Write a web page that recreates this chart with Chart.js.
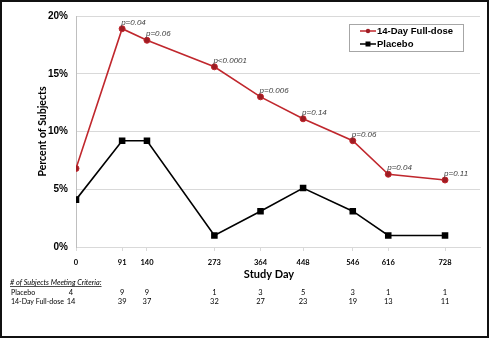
<!DOCTYPE html>
<html>
<head>
<meta charset="utf-8">
<script src="https://cdn.jsdelivr.net/npm/chart.js@4/dist/chart.umd.min.js"></script>
<style>
html,body{margin:0;padding:0;background:#fff;}
canvas{display:block;}
</style>
</head>
<body>
<canvas id="c" width="489" height="338"></canvas>
<script>
const days = [0, 91, 140, 273, 364, 448, 546, 616, 728];
const fullDose = [6.8, 18.9, 17.9, 15.6, 13.0, 11.1, 9.2, 6.3, 5.8];
const placebo = [4.1, 9.2, 9.2, 1.0, 3.1, 5.1, 3.1, 1.0, 1.0];
const pValues = ['', 'p=0.04', 'p=0.06', 'p<0.0001', 'p=0.006', 'p=0.14', 'p=0.06', 'p=0.04', 'p=0.11'];
const placeboCounts = [4, 9, 9, 1, 3, 5, 3, 1, 1];
const fullDoseCounts = [14, 39, 37, 32, 27, 23, 19, 13, 11];
const yTicks = [0, 5, 10, 15, 20];
const seriesNames = ['14-Day Full-dose', 'Placebo'];

const RED = '#c0272d', RED_DARK = '#9e1c23', BLACK = '#000000';

const extras = {
  id: 'extras',
  beforeDraw(chart) {
    const ctx = chart.ctx;
    ctx.save();
    ctx.fillStyle = '#fff';
    ctx.fillRect(0, 0, chart.width, chart.height);
    ctx.restore();
  },
  afterDraw(chart) {
    const ctx = chart.ctx;
    const xs = chart.scales.x, ys = chart.scales.y;
    const area = chart.chartArea;
    ctx.save();
    // y title
    ctx.fillStyle = '#000';
    ctx.font = 'bold 10.5px Lato';
    ctx.textAlign = 'center';
    ctx.textBaseline = 'middle';
    ctx.translate(43, (area.top + area.bottom) / 2);
    ctx.rotate(-Math.PI / 2);
    ctx.fillText('Percent of Subjects', 0, 0);
    ctx.restore();

    ctx.save();
    // x title
    ctx.fillStyle = '#000';
    ctx.font = 'bold 11px Lato';
    ctx.textAlign = 'center';
    ctx.textBaseline = 'middle';
    ctx.fillText('Study Day', 269, 274);

    // p-values
    ctx.font = 'italic 8px "Liberation Sans"';
    ctx.fillStyle = '#404040';
    ctx.textAlign = 'left';
    pValues.forEach((t, i) => {
      if (!t) return;
      const px = xs.getPixelForValue(days[i]);
      const py = ys.getPixelForValue(fullDose[i]);
      ctx.fillText(t, px - 1, py - 6);
    });

    // table
    ctx.fillStyle = '#000';
    ctx.font = 'italic 7.3px Lato';
    ctx.textAlign = 'left';
    const hdr = '# of Subjects Meeting Criteria:';
    ctx.fillText(hdr, 10, 282.5);
    const w = ctx.measureText(hdr).width;
    ctx.strokeStyle = '#000';
    ctx.lineWidth = 0.7;
    ctx.beginPath();
    ctx.moveTo(10, 286.5);
    ctx.lineTo(10 + w, 286.5);
    ctx.stroke();
    ctx.font = '7px Lato';
    ctx.fillText(seriesNames[1], 11, 292.5);
    ctx.fillText(seriesNames[0], 11, 302);
    ctx.font = '7.5px Lato';
    ctx.textAlign = 'center';
    days.forEach((d, i) => {
      const px = xs.getPixelForValue(d) - (i === 0 ? 5 : 0);
      ctx.fillText(String(placeboCounts[i]), px, 292.5);
      ctx.fillText(String(fullDoseCounts[i]), px, 302);
    });

    // legend
    ctx.strokeStyle = '#a6a6a6';
    ctx.lineWidth = 1;
    ctx.strokeRect(349.5, 24.5, 114, 27);
    const rows = [
      { name: seriesNames[0], color: RED, fill: RED_DARK, shape: 'circle', y: 31 },
      { name: seriesNames[1], color: BLACK, fill: BLACK, shape: 'square', y: 44 }
    ];
    ctx.font = 'bold 9.5px "Liberation Sans"';
    ctx.textAlign = 'left';
    ctx.textBaseline = 'middle';
    rows.forEach(r => {
      ctx.strokeStyle = r.color;
      ctx.lineWidth = 1.5;
      ctx.beginPath();
      ctx.moveTo(360, r.y);
      ctx.lineTo(376, r.y);
      ctx.stroke();
      ctx.fillStyle = r.fill;
      if (r.shape === 'circle') {
        ctx.beginPath();
        ctx.arc(368, r.y, 2.2, 0, Math.PI * 2);
        ctx.fill();
      } else {
        ctx.fillRect(365.5, r.y - 2.5, 5, 5);
      }
      ctx.fillStyle = '#000';
      ctx.fillText(r.name, 377, r.y + 0.5);
    });

    // outer frame
    ctx.strokeStyle = '#111';
    ctx.lineWidth = 2;
    ctx.strokeRect(1, 1, chart.width - 2, chart.height - 2);
    ctx.restore();
  }
};

new Chart(document.getElementById('c'), {
  type: 'line',
  data: {
    datasets: [
      {
        label: seriesNames[0],
        data: days.map((d, i) => ({ x: d, y: fullDose[i] })),
        borderColor: RED,
        backgroundColor: RED_DARK,
        pointBackgroundColor: RED_DARK,
        pointBorderColor: RED,
        pointBorderWidth: 1,
        pointRadius: 3,
        pointStyle: 'circle',
        borderWidth: 1.6,
        tension: 0
      },
      {
        label: seriesNames[1],
        data: days.map((d, i) => ({ x: d, y: placebo[i] })),
        borderColor: BLACK,
        backgroundColor: BLACK,
        pointBackgroundColor: BLACK,
        pointBorderColor: BLACK,
        pointRadius: 3.5,
        pointStyle: 'rect',
        borderWidth: 1.6,
        tension: 0
      }
    ]
  },
  options: {
    responsive: false,
    animation: false,
    devicePixelRatio: 1,
    layout: { padding: { top: 16, right: 9, left: 0, bottom: 0 } },
    plugins: { legend: { display: false }, tooltip: { enabled: false } },
    scales: {
      x: {
        type: 'linear',
        min: 0,
        max: 797,
        afterBuildTicks: s => { s.ticks = days.map(v => ({ value: v })); },
        afterFit: s => { s.height = 91; },
        ticks: {
          autoSkip: false,
          maxRotation: 0,
          padding: 7,
          color: '#000',
          font: { family: 'Lato', weight: 'bold', size: 7.5 },
          callback: v => String(v)
        },
        grid: { drawOnChartArea: false, drawTicks: true, tickLength: 4, color: '#d9d9d9' },
        border: { display: true, color: '#d9d9d9' }
      },
      y: {
        min: 0,
        max: 20,
        afterBuildTicks: s => { s.ticks = yTicks.map(v => ({ value: v })); },
        afterFit: s => { s.width = 76; },
        ticks: {
          padding: 8,
          color: '#000',
          font: { family: 'Liberation Sans', weight: 'bold', size: 10 },
          callback: v => v + '%'
        },
        grid: { drawTicks: false, color: '#d9d9d9' },
        border: { display: true, color: '#bfbfbf' }
      }
    }
  },
  plugins: [extras]
});
</script>
</body>
</html>
